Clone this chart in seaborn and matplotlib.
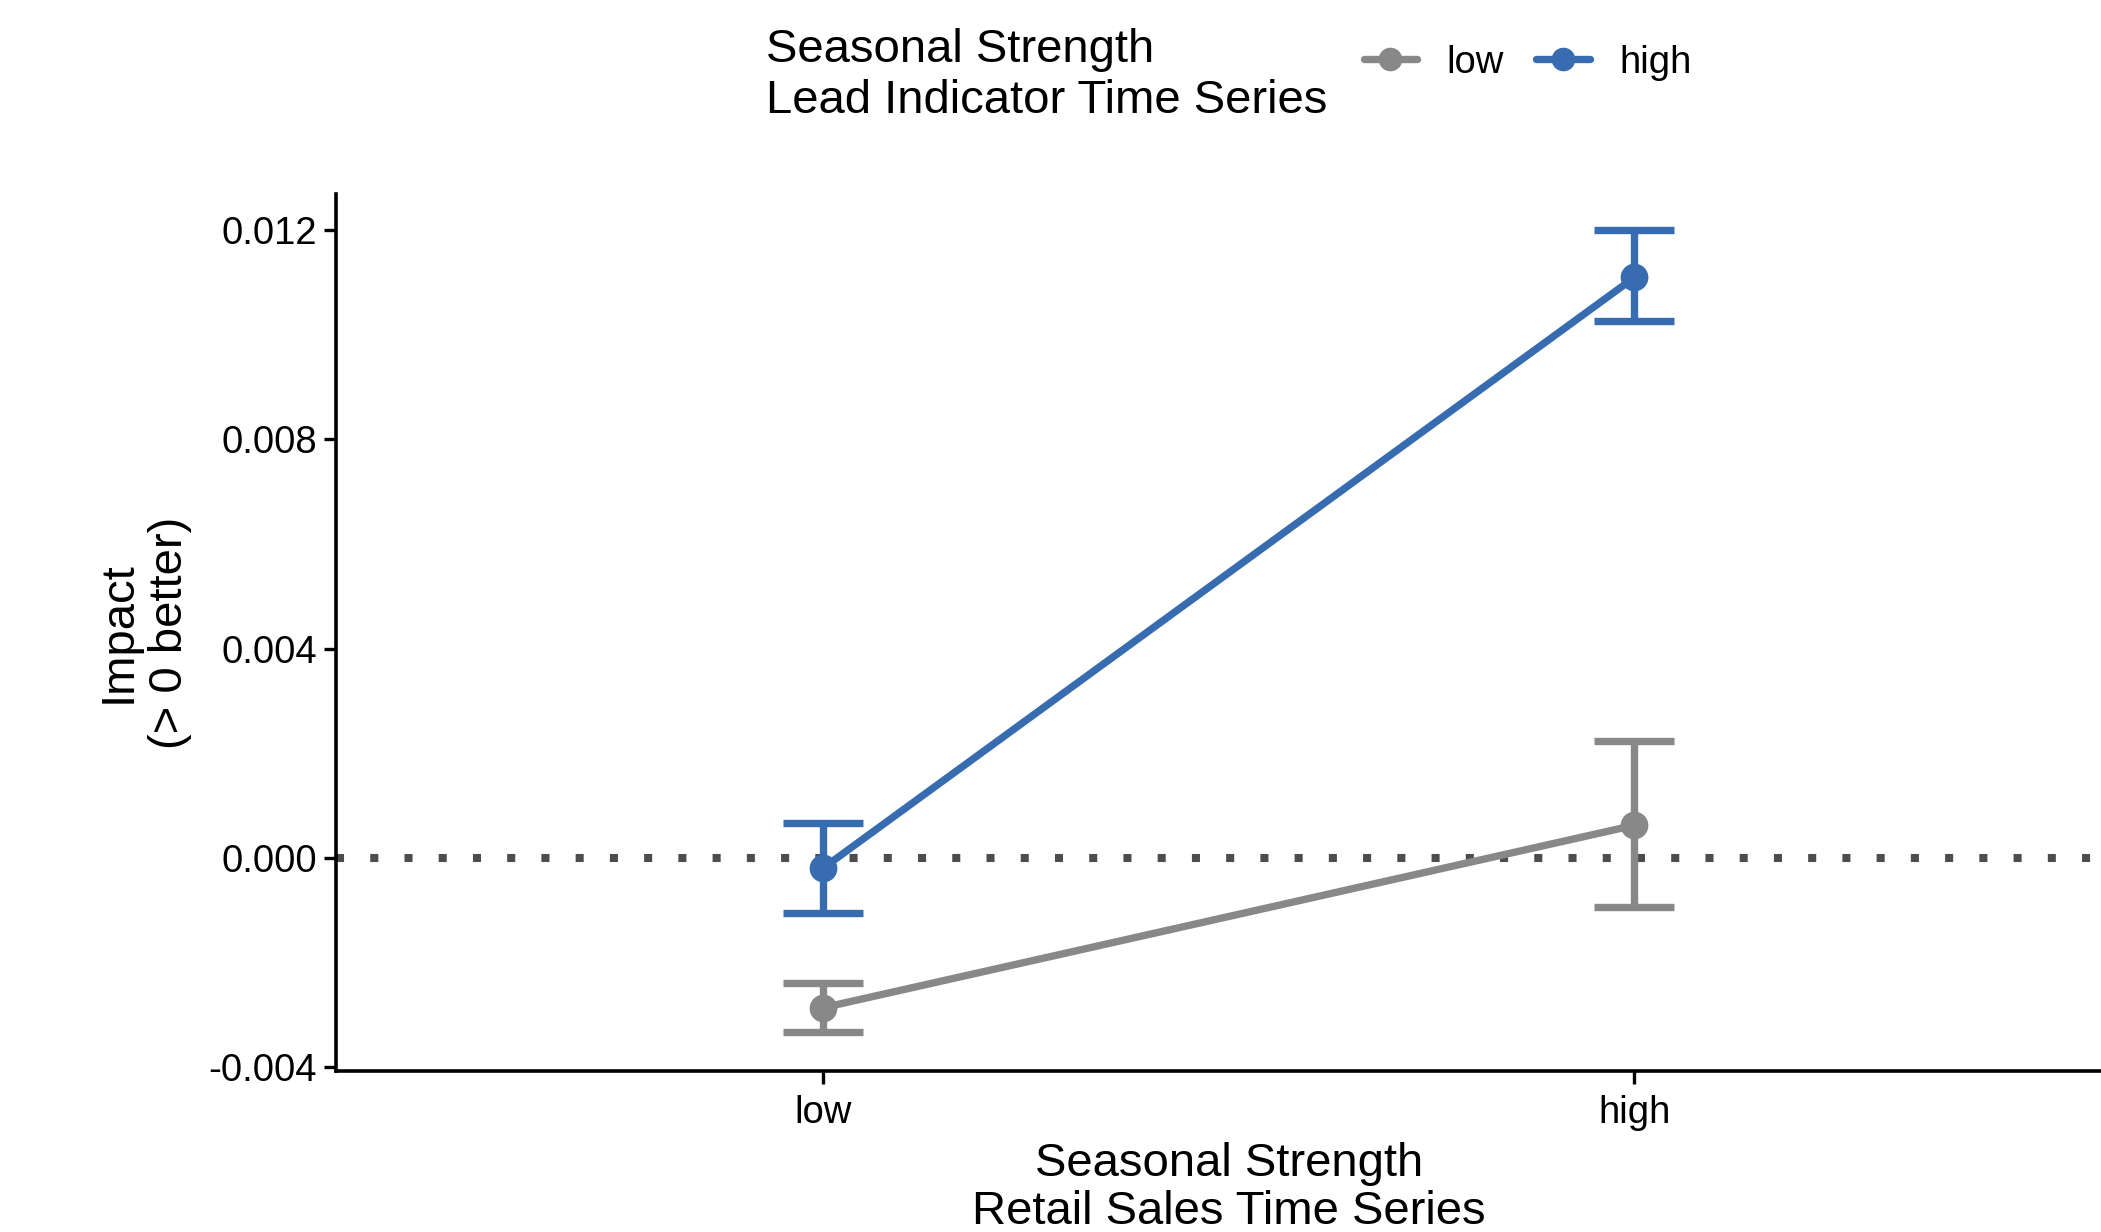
import numpy as np
import pandas as pd
import matplotlib
matplotlib.use("Agg")
import matplotlib.pyplot as plt
import seaborn as sns
from matplotlib.lines import Line2D

# data
retail = ["low", "high"]          # x categories (retail sales seasonal strength)
lead = ["low", "high"]            # hue (lead indicator seasonal strength)
mean_low = [-0.00287, 0.00062]
lo_low = [-0.00333, -0.00095]
hi_low = [-0.00240, 0.00223]
mean_high = [-0.00020, 0.01110]
lo_high = [-0.00105, 0.01026]
hi_high = [0.00067, 0.01200]
yticks = [-0.004, 0.000, 0.004, 0.008, 0.012]
ytick_labels = ["-0.004", "0.000", "0.004", "0.008", "0.012"]

colors = {"low": "#888888", "high": "#386CB0"}

df = pd.DataFrame({
    "retail": retail * 2,
    "lead": ["low"] * 2 + ["high"] * 2,
    "impact": mean_low + mean_high,
    "lo": lo_low + lo_high,
    "hi": hi_low + hi_high,
})

sns.set_style("white")
plt.rcParams["font.family"] = ["Liberation Sans", "DejaVu Sans"]
plt.rcParams["text.color"] = "black"
plt.rcParams["axes.labelcolor"] = "black"
plt.rcParams["xtick.color"] = "black"
plt.rcParams["ytick.color"] = "black"

LW = 5.3
fig = plt.figure(figsize=(21.01, 12.32), dpi=100)
ax = fig.add_axes([0.160, 0.1307, 0.840, 0.712])

# zero reference line
ax.axhline(0, color="#4D4D4D", lw=5.8, ls=(0, (1, 3.25)), dash_capstyle="butt", zorder=1)

sns.pointplot(data=df, x="retail", y="impact", hue="lead", order=retail,
              hue_order=lead, palette=colors, errorbar=None, markers="o",
              linewidth=LW, markersize=16, ax=ax, legend=False, zorder=3)

for lvl in lead:
    sub = df[df["lead"] == lvl].set_index("retail").loc[retail]
    xs = np.arange(len(retail))
    ax.errorbar(xs, sub["impact"], yerr=[sub["impact"] - sub["lo"], sub["hi"] - sub["impact"]],
                fmt="none", ecolor=colors[lvl], elinewidth=LW, capsize=29, capthick=LW, zorder=2)

ax.set_xlim(-0.6, 1.575)
ax.set_ylim(-0.00408, 0.0127)
ax.set_yticks(yticks)
ax.set_yticklabels(ytick_labels)
ax.tick_params(axis="both", labelsize=27.5, length=9, width=2.4, color="black",
               direction="out", left=True, bottom=True, pad=5)
ax.tick_params(axis="x", pad=8.5)
for s in ["top", "right"]:
    ax.spines[s].set_visible(False)
for s in ["left", "bottom"]:
    ax.spines[s].set_color("black")
    ax.spines[s].set_linewidth(2.6)

ax.set_xlabel("Seasonal Strength\nRetail Sales Time Series", fontsize=34, labelpad=8, linespacing=1.12)
ax.xaxis.label.set_x(0.506)
ax.set_ylabel("Impact\n(> 0 better)", fontsize=34, labelpad=12, linespacing=1.2)

# legend on top
fig.text(0.3645, 0.977, "Seasonal Strength\nLead Indicator Time Series", fontsize=34,
         ha="left", va="top", linespacing=1.2)
handles = [Line2D([0], [0], color=colors[l], lw=LW, marker="o", markersize=16) for l in lead]
fig.legend(handles, lead, loc="center left", bbox_to_anchor=(0.649, 0.949), ncol=2,
           frameon=False, fontsize=27.5, handlelength=1.4, handletextpad=0.77,
           columnspacing=0.85, borderaxespad=0, borderpad=0)

fig.savefig("out.png", dpi=100)
